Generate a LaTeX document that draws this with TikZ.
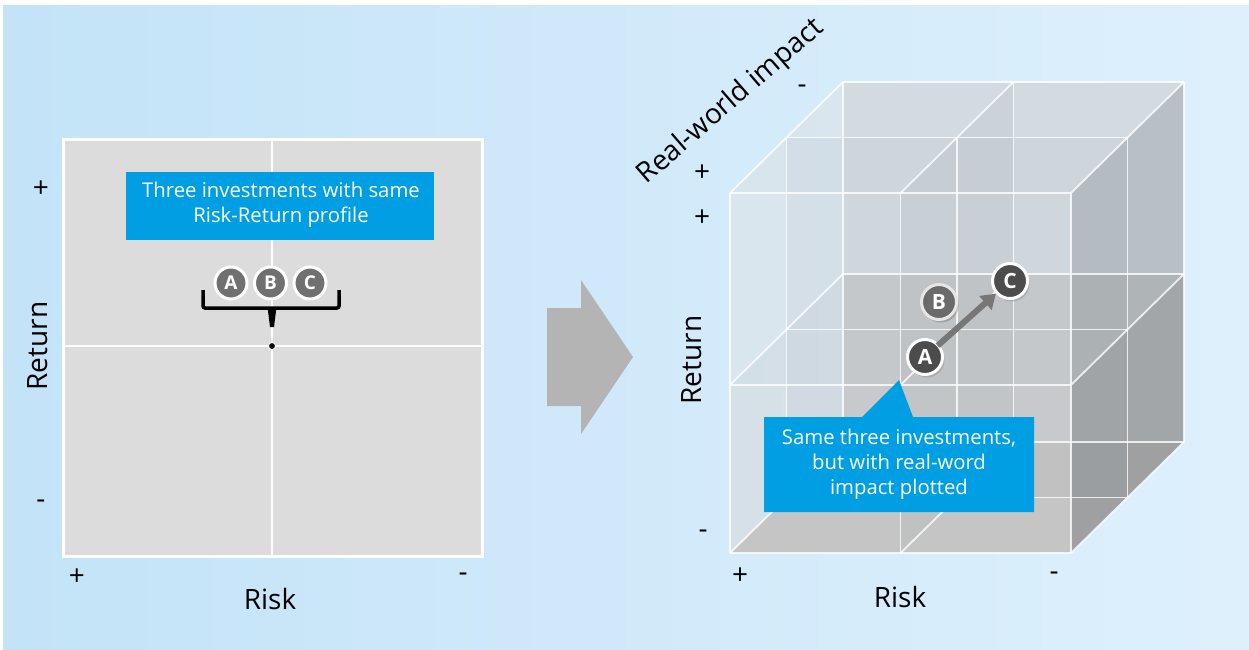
\documentclass[tikz,border=0pt]{standalone}
\usepackage{fontspec}
\setmainfont{Open Sans}
\usetikzlibrary{arrows.meta,shadows}
\definecolor{bgL}{HTML}{C3E3F8}
\definecolor{bgR}{HTML}{DEF0FC}
\definecolor{blueBox}{HTML}{009FE3}
\definecolor{panelGray}{HTML}{DCDCDC}
\definecolor{bigArrow}{HTML}{B4B4B4}
\definecolor{dotGray}{HTML}{707070}
\definecolor{darkDot}{HTML}{4C4C4C}
\definecolor{arrGray}{HTML}{777777}
\definecolor{backU}{HTML}{D0D8DE}
\definecolor{backL}{HTML}{C8CACC}
\definecolor{floorC}{HTML}{BFBFBF}
\definecolor{glass}{HTML}{9AA2A8}
\definecolor{rightC}{HTML}{8A9296}
\definecolor{ringB}{HTML}{E6E6E6}
\tikzset{
  lbl/.style={font=\fontsize{28}{32}\selectfont, text=black},
  pm/.style={font=\fontsize{28}{30}\selectfont, text=black},
  bluetext/.style={font=\fontsize{20.3}{24.8}\selectfont, text=white, align=center},
  dotL/.style={circle, fill=dotGray, draw=white, line width=3pt, minimum size=32pt, inner sep=0pt,
    text=white, font=\fontsize{19}{19}\selectfont\bfseries},
  dotC/.style={circle, fill=darkDot, draw=white, line width=3pt, minimum size=35pt, inner sep=0pt,
    text=white, font=\fontsize{21}{21}\selectfont\bfseries,
    drop shadow={shadow xshift=2pt, shadow yshift=-3pt, opacity=0.35}},
  gridline/.style={draw=white, draw opacity=0.8, line width=1.8pt},
  glassF/.style={fill=glass, fill opacity=0.11},
}
\begin{document}
\begin{tikzpicture}[x=1pt,y=-1pt]
\useasboundingbox (0,0) rectangle (1249,649);
\fill[white] (0,0) rectangle (1249,649);
\shade[left color=bgL, right color=bgR] (3,5) rectangle (1249,649);

% ---------- left panel ----------
\draw[white, line width=3pt, fill=panelGray] (63,139.5) rectangle (482.5,556.5);
\draw[white, line width=2.6pt] (272,139.5) -- (272,556.5);
\draw[white, line width=2.6pt] (63,346) -- (482.5,346);

\fill[blueBox] (126,172) rectangle (434,240);
\node[bluetext] (t1) at (281,205) {Three investments with same\\Risk-Return profile};

\draw[black, line width=3.5pt, rounded corners=2pt] (203,290) -- (203,308) -- (339,308) -- (339,290);
\fill[black] (267.5,307) -- (276.5,307) -- (274,327) -- (270,327) -- cycle;
\draw[white, fill=black, line width=1pt] (272,346) circle (3.6);

\node[dotL] (a1) at (231,283) {A};
\node[dotL] (b1) at (270.5,283) {B};
\node[dotL] (c1) at (310,283) {C};

\node[pm] (lp1) at (41,189) {+};
\node[pm] (lm1) at (41,504) {-};
\node[pm] (lp2) at (77,577) {+};
\node[pm] (lm2) at (463,577) {-};
\node[lbl, rotate=90] (lret) at (38,346) {Return};
\node[lbl] (lrisk) at (270,599) {Risk};

% ---------- big arrow ----------
\fill[bigArrow] (547,308) -- (581,308) -- (581,280) -- (633,357) -- (581,434) -- (581,406) -- (547,406) -- cycle;

% ---------- cube ----------
\begin{scope}[shift={(730,553)}, x={(341pt,0pt)}, y={(0pt,360pt)}, z={(113pt,111pt)}]
  \def\jm{0.4667}
  % back face
  \fill[backU] (0,\jm,1) -- (1,\jm,1) -- (1,1,1) -- (0,1,1) -- cycle;
  \fill[backL] (0,0,1) -- (1,0,1) -- (1,\jm,1) -- (0,\jm,1) -- cycle;
  % floor
  \fill[floorC] (0,0,0) -- (1,0,0) -- (1,0,1) -- (0,0,1) -- cycle;
  % left face
  \fill[gray!30, fill opacity=0.4] (0,0,0) -- (0,1,0) -- (0,1,1) -- (0,0,1) -- cycle;
  % mid-depth plane
  \fill[glassF] (0,0,0.5) -- (1,0,0.5) -- (1,1,0.5) -- (0,1,0.5) -- cycle;
  % mid-x plane
  \fill[glass, fill opacity=0.16] (0.5,0,0) -- (0.5,1,0) -- (0.5,1,1) -- (0.5,0,1) -- cycle;
  % mid horizontal plane
  \fill[glassF] (0,\jm,0) -- (1,\jm,0) -- (1,\jm,1) -- (0,\jm,1) -- cycle;
  % lower half extra grey
  \fill[gray!60, fill opacity=0.12] (0,0,0) -- (1,0,0) -- (1,0,1) -- (1,\jm,1) -- (1,\jm,0) -- (0,\jm,0) -- cycle;
  % right face
  \fill[rightC, fill opacity=0.33] (1,0,0) -- (1,1,0) -- (1,1,1) -- (1,0,1) -- cycle;
  \fill[black, fill opacity=0.08] (1,0,0) -- (1,\jm,0) -- (1,\jm,1) -- (1,0,1) -- cycle;
  % top face
  \fill[white, fill opacity=0.08] (0,1,0) -- (1,1,0) -- (1,1,1) -- (0,1,1) -- cycle;
  % front face
  \fill[white, fill opacity=0.12] (0,0,0) -- (1,0,0) -- (1,1,0) -- (0,1,0) -- cycle;
  % grid lines
  \foreach \a in {0,0.5,1}{
    \foreach \b in {0,\jm,1}{
      \draw[gridline] (0,\b,\a) -- (1,\b,\a);
      \draw[gridline] (\a,\b,0) -- (\a,\b,1);
    }
    \foreach \c in {0,0.5,1}{
      \draw[gridline] (\a,0,\c) -- (\a,1,\c);
    }
  }
\end{scope}

% callout
\fill[blueBox] (764,417) -- (862,417) -- (899,380) -- (913,417) -- (1034,417) -- (1034,512) -- (764,512) -- cycle;
\node[bluetext] (t2) at (899,464) {Same three investments,\\but with real-word\\impact plotted};

% dots in cube
\node[dotC, fill=dotGray!95!black, draw=ringB, drop shadow={shadow xshift=2pt, shadow yshift=-3pt, opacity=0.2}] (b3) at (939,302) {B};
\node[dotC] (a3) at (925,357) {A};
\node[dotC] (c3) at (1010,281) {C};
\draw[arrGray, line width=6pt, -{Triangle[width=18pt,length=14pt]}, shorten <=-2pt] (a3) -- (c3);

% cube labels
\node[pm] (rp1) at (702,173) {+};
\node[pm] (rp2) at (702,218) {+};
\node[pm] (rm1) at (802,89) {-};
\node[pm] (rm2) at (703,534) {-};
\node[pm] (rp3) at (740,576) {+};
\node[pm] (rm3) at (1054,576) {-};
\node[lbl, rotate=90] (rret) at (692,360) {Return};
\node[lbl] (rrisk) at (900,597) {Risk};
\node[lbl, rotate=41] (rimp) at (731,102) {Real-world impact};
\end{tikzpicture}
\end{document}
